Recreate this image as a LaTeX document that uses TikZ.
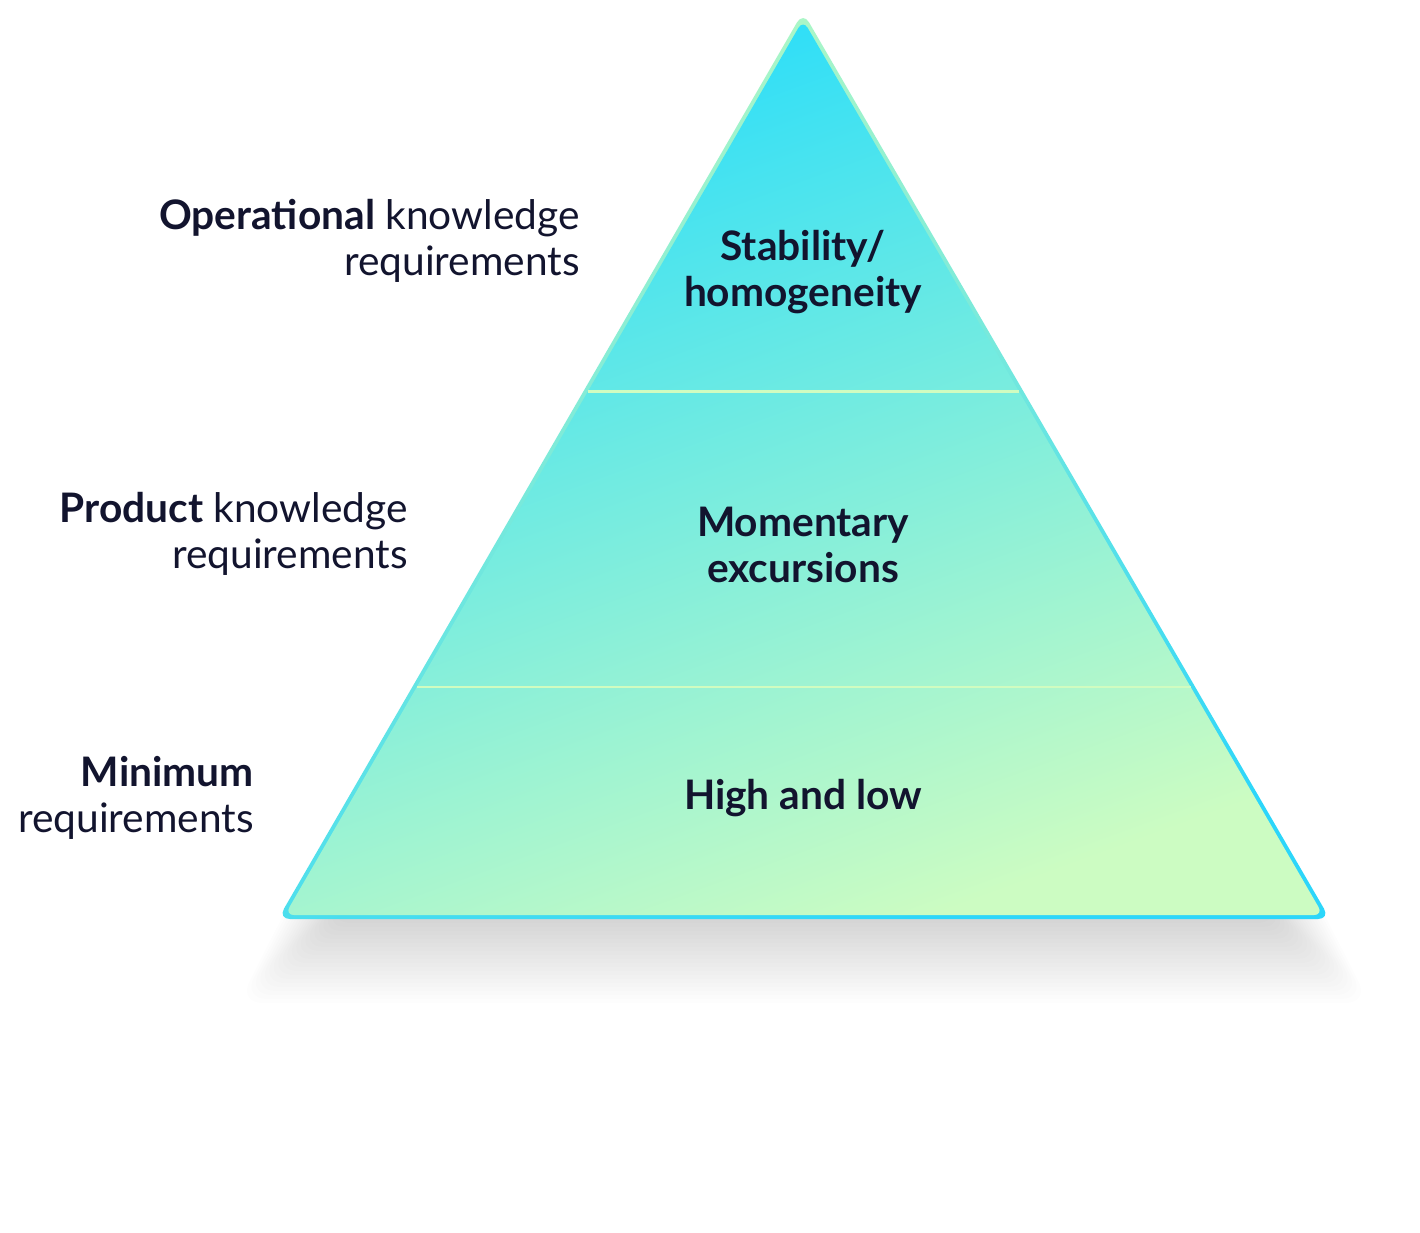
\documentclass[tikz,border=0pt]{standalone}
\usepackage{fontspec}
\setmainfont{Lato}
\usetikzlibrary{calc}

\definecolor{navy}{RGB}{18,20,46}
\definecolor{topcyan}{RGB}{40,221,250}
\definecolor{basegreen}{RGB}{204,252,194}
\definecolor{edgegreen}{RGB}{178,248,196}
\definecolor{edgecyan}{RGB}{44,214,250}
\definecolor{tierline}{RGB}{208,252,192}

\tikzset{
  sidelabel/.style={text=navy, align=right, anchor=east, inner sep=0pt},
  tierlabel/.style={text=navy, align=center, inner sep=0pt,
    font=\fontsize{30.5}{35}\selectfont\bfseries},
  tierrule/.style={draw=tierline, line width=1.8pt}
}

\begin{document}
\begin{tikzpicture}[x=0.75pt,y=-0.75pt,font=\fontsize{30.5}{35}\selectfont]

\useasboundingbox (0,0) rectangle (1420,1232);
\fill[white] (0,0) rectangle (1420,1232);

%%%%%%%%%%%%%%%%%%%%%%%%%%%%%%%%%%%%%%%%%%%%%%%%%%%%%%
% PYRAMID CORNERS
%%%%%%%%%%%%%%%%%%%%%%%%%%%%%%%%%%%%%%%%%%%%%%%%%%%%%%

\coordinate (apex) at (803,12);
\coordinate (left) at (278,919);
\coordinate (right) at (1330,919);
\coordinate (centre) at (803.5,616);

\coordinate (apexin) at ($(centre)!0.987!(apex)$);
\coordinate (leftin) at ($(centre)!0.987!(left)$);
\coordinate (rightin) at ($(centre)!0.987!(right)$);

\coordinate (shadowl) at ($(apex)!0.88!(left)$);
\coordinate (shadowr) at ($(apex)!0.88!(right)$);

%%%%%%%%%%%%%%%%%%%%%%%%%%%%%%%%%%%%%%%%%%%%%%%%%%%%%%
% SHADOW
%%%%%%%%%%%%%%%%%%%%%%%%%%%%%%%%%%%%%%%%%%%%%%%%%%%%%%

\foreach \e in {-44,-40,...,36}
  \fill[black, opacity=0.0095, rounded corners=18pt]
  ([xshift={-0.8*\e*0.75pt}, yshift={-48*0.75pt}]shadowl)
  -- ([xshift={0.8*\e*0.75pt}, yshift={-48*0.75pt}]shadowr)
  -- ([xshift={1.1*\e*0.75pt}, yshift={-(48+\e)*0.75pt}]right)
  -- ([xshift={-1.1*\e*0.75pt}, yshift={-(48+\e)*0.75pt}]left) -- cycle;

%%%%%%%%%%%%%%%%%%%%%%%%%%%%%%%%%%%%%%%%%%%%%%%%%%%%%%
% PYRAMID BODY
%%%%%%%%%%%%%%%%%%%%%%%%%%%%%%%%%%%%%%%%%%%%%%%%%%%%%%

\path[
rounded corners=9pt,
top color=edgegreen,
bottom color=edgecyan,
shading angle=20
]
(apex) -- (right) -- (left) -- cycle;

\path[
rounded corners=7pt,
top color=topcyan,
bottom color=basegreen,
shading angle=20
]
(apexin) -- (rightin) -- (leftin) -- cycle;

%%%%%%%%%%%%%%%%%%%%%%%%%%%%%%%%%%%%%%%%%%%%%%%%%%%%%%
% TIER RULES
%%%%%%%%%%%%%%%%%%%%%%%%%%%%%%%%%%%%%%%%%%%%%%%%%%%%%%

\path[tierrule]
($(apexin)!0.415!(leftin)$) -- ($(apexin)!0.415!(rightin)$);

\path[tierrule]
($(apexin)!0.745!(leftin)$) -- ($(apexin)!0.745!(rightin)$);

%%%%%%%%%%%%%%%%%%%%%%%%%%%%%%%%%%%%%%%%%%%%%%%%%%%%%%
% TIER TEXTS
%%%%%%%%%%%%%%%%%%%%%%%%%%%%%%%%%%%%%%%%%%%%%%%%%%%%%%

\node[tierlabel] (stability) at (803,272)
{Stability/\\homogeneity};

\node[tierlabel] (excursions) at (803,545)
{Momentary\\excursions};

\node[tierlabel] (highlow) at (803,798)
{High and low};

%%%%%%%%%%%%%%%%%%%%%%%%%%%%%%%%%%%%%%%%%%%%%%%%%%%%%%
% SIDE TEXTS
%%%%%%%%%%%%%%%%%%%%%%%%%%%%%%%%%%%%%%%%%%%%%%%%%%%%%%

\node[sidelabel] (operational) at (580,241)
{{\bfseries Operational} knowledge\\requirements};

\node[sidelabel] (product) at (408,534)
{{\bfseries Product} knowledge\\requirements};

\node[sidelabel] (minimum) at (254,798)
{{\bfseries Minimum}\\requirements};

\end{tikzpicture}
\end{document}
